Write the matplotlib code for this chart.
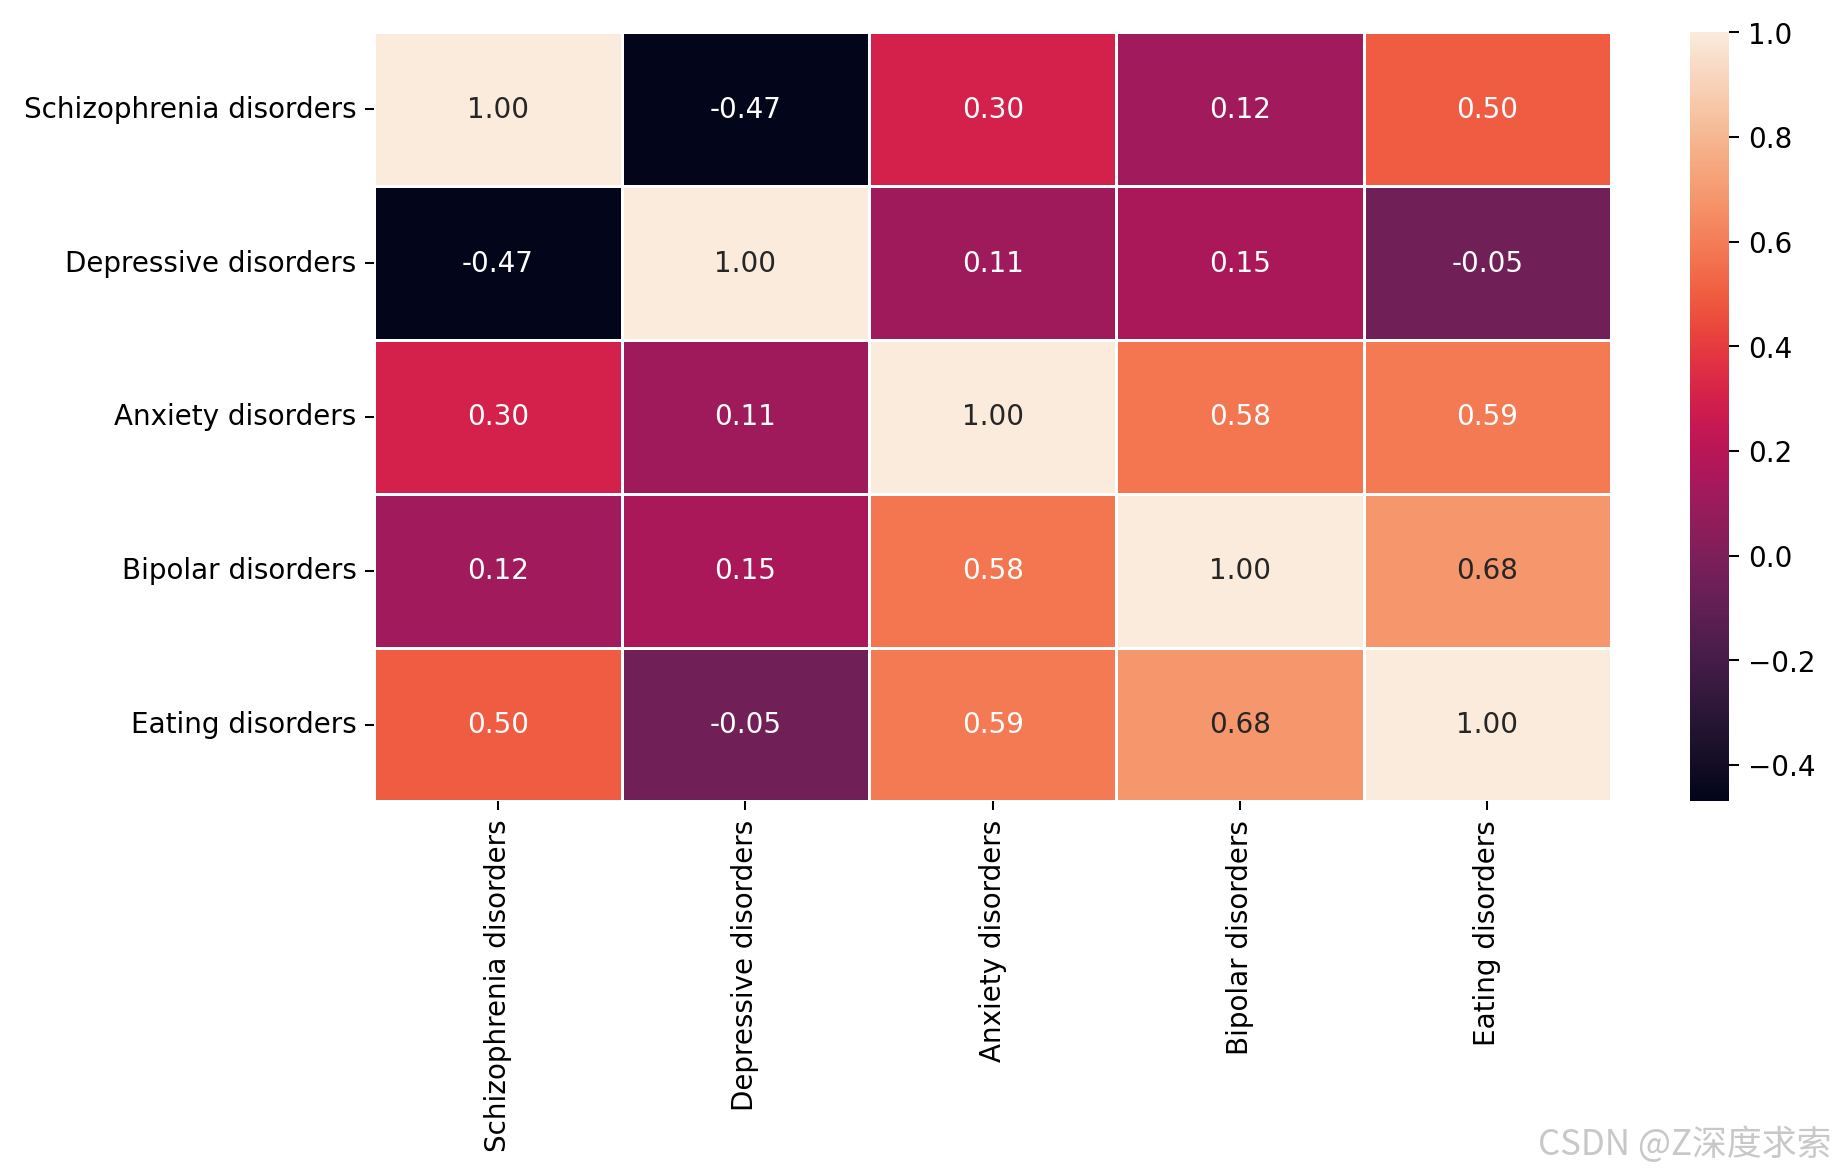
import matplotlib
matplotlib.use('Agg')
import matplotlib.pyplot as plt
import numpy as np
import seaborn as sns

# Datos
etiquetas = ['Schizophrenia disorders', 'Depressive disorders', 'Anxiety disorders',
             'Bipolar disorders', 'Eating disorders']
fila_schizo = [1.00, -0.47, 0.30, 0.12, 0.50]
fila_depre = [-0.47, 1.00, 0.11, 0.15, -0.05]
fila_ansie = [0.30, 0.11, 1.00, 0.58, 0.59]
fila_bipolar = [0.12, 0.15, 0.58, 1.00, 0.68]
fila_eating = [0.50, -0.05, 0.59, 0.68, 1.00]

corr = np.array([fila_schizo, fila_depre, fila_ansie, fila_bipolar, fila_eating])

plt.rcParams['font.size'] = 10.9

fig = plt.figure(figsize=(10, 6.39), dpi=183.5)
ax = fig.add_axes([0.204, 0.316, 0.674, 0.656])
cax = fig.add_axes([0.921, 0.316, 0.021, 0.656])

sns.heatmap(corr, annot=True, fmt='.2f', cmap='rocket', linewidths=1, linecolor='white',
            xticklabels=etiquetas, yticklabels=etiquetas, ax=ax, cbar_ax=cax,
            annot_kws={'fontsize': 10.9})
ax.tick_params(axis='x', rotation=90, labelsize=10.9)
ax.tick_params(axis='y', rotation=0, labelsize=10.9)
cax.tick_params(length=4, labelsize=10.9)
cax.set_yticks([-0.4, -0.2, 0.0, 0.2, 0.4, 0.6, 0.8, 1.0])
for s in cax.spines.values():
    s.set_visible(False)

# Marca de agua
fig.text(0.998, 0.008, 'CSDN @Z深度求索', ha='right', va='bottom', fontsize=13.7,
         color='#c8c8c8', family=['Noto Sans CJK SC', 'DejaVu Sans'])

fig.savefig('out.png', dpi=183.5)
